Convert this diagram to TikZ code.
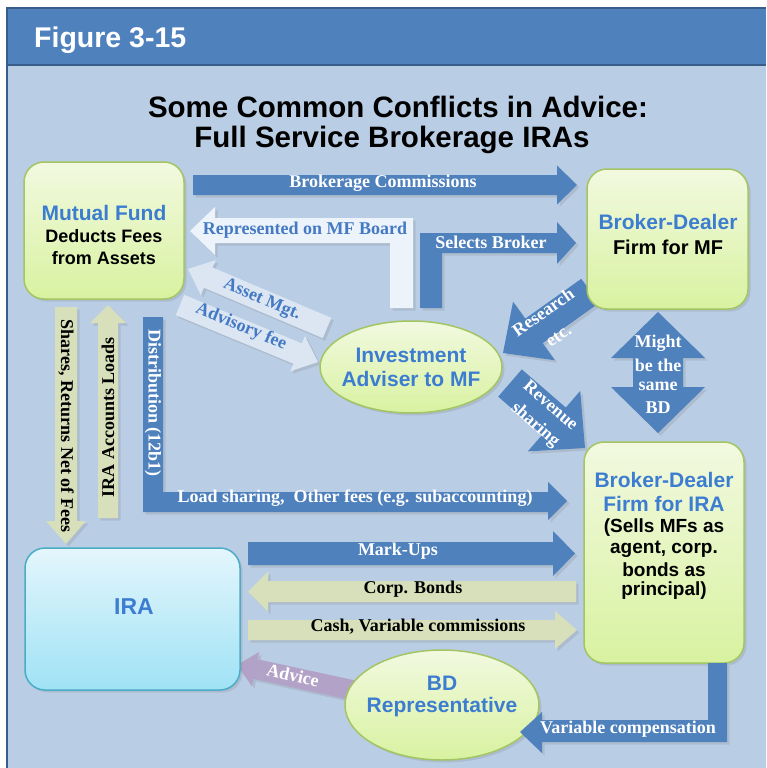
\documentclass[tikz,border=0pt]{standalone}
\usepackage{fontspec}
\setmainfont{Liberation Serif}
\newfontfamily\arialf{Liberation Sans}
\usetikzlibrary{calc,shapes.geometric,shadows}

\definecolor{hdrblue}{HTML}{4F81BD}
\definecolor{hdrdark}{HTML}{385D8A}
\definecolor{bodyblue}{HTML}{B9CDE5}
\definecolor{arrblue}{HTML}{4F81BD}
\definecolor{arrlight}{HTML}{DCE6F2}
\definecolor{arrwhite}{HTML}{EDF3FA}
\definecolor{arrolive}{HTML}{D7E0BA}
\definecolor{arrpurple}{HTML}{B3A2C7}
\definecolor{txtblue}{HTML}{3C7DD1}
\definecolor{lblblue}{HTML}{4479C4}
\definecolor{greentop}{HTML}{F2F9E0}
\definecolor{greenbot}{HTML}{D8F2A0}
\definecolor{greenedge}{HTML}{A3C563}
\definecolor{cyantop}{HTML}{E4F6FC}
\definecolor{cyanbot}{HTML}{9FE2F5}
\definecolor{cyanedge}{HTML}{4BACC6}

% style, tail, tip, shaft half-width, head half-width, head length
\newcommand{\fatarrow}[6]{%
  \coordinate (fa-base) at ($(#3)!#6!(#2)$);
  \path[#1] ($(#2)!#4!90:(#3)$) -- ($(fa-base)!#4!90:(#3)$) -- ($(fa-base)!#5!90:(#3)$)
    -- (#3) -- ($(fa-base)!#5!-90:(#3)$) -- ($(fa-base)!#4!-90:(#3)$) -- ($(#2)!#4!-90:(#3)$) -- cycle;}

\tikzset{
  shad/.style={drop shadow={opacity=0.22, shadow xshift=2.5pt, shadow yshift=-2.5pt}},
  bluearrow/.style={fill=arrblue, shad},
  lightarrow/.style={fill=arrlight, shad},
  whitearrow/.style={fill=arrwhite, shad},
  olivearrow/.style={fill=arrolive, shad},
  purplearrow/.style={fill=arrpurple, shad},
  gbox/.style={rectangle, draw=greenedge, line width=1.5pt, top color=greentop, bottom color=greenbot, rounded corners=20pt, shad, inner sep=0pt},
  cbox/.style={rectangle, draw=cyanedge, line width=1.5pt, top color=cyantop, bottom color=cyanbot, rounded corners=20pt, shad, inner sep=0pt},
  gell/.style={ellipse, draw=greenedge, line width=1.5pt, top color=greentop, bottom color=greenbot, shad, inner sep=0pt},
  lbl/.style={font=\fontsize{18}{22}\selectfont\bfseries, inner sep=0pt, align=center},
  wlbl/.style={lbl, text=white},
  klbl/.style={lbl, text=black},
  blbl/.style={lbl, text=lblblue},
  btitle/.style={font=\arialf\bfseries\fontsize{21}{24}\selectfont, text=txtblue, inner sep=0pt},
  btext/.style={font=\arialf\bfseries\fontsize{19}{21}\selectfont, text=black, inner sep=0pt},
}

\begin{document}
\begin{tikzpicture}[x=1pt,y=-1pt]
\useasboundingbox (0,0) rectangle (766,768);
\fill[white] (0,0) rectangle (766,768);
% frame
\fill[bodyblue] (7,65) rectangle (766,768);
\fill[hdrblue] (7,8) rectangle (766,65);
\draw[hdrdark, line width=2pt] (766,8) -- (7,8) -- (7,768);
\draw[hdrdark, line width=2pt] (7,65) -- (766,65);
\node[anchor=west, text=white, font=\arialf\bfseries\fontsize{28.5}{30}\selectfont, inner sep=0pt] (fig) at (34,40) {Figure 3-15};

% title
\node[font=\arialf\bfseries\fontsize{29.5}{33}\selectfont, inner sep=0pt] (title1) at (398,107) {Some Common Conflicts in Advice:};
\node[font=\arialf\bfseries\fontsize{29.5}{33}\selectfont, inner sep=0pt] (title2) at (392,140) {Full Service Brokerage IRAs};

% ---------- arrows (under boxes) ----------
% Brokerage Commissions
\coordinate (bc-tail) at (193,185); \coordinate (bc-tip) at (577,185);
\fatarrow{bluearrow}{bc-tail}{bc-tip}{10pt}{19.5pt}{20pt}

% Represented on MF Board (L-shaped)
\path[whitearrow] (190,231) -- (215,207) -- (215,218) -- (413,218) -- (413,308) -- (390,308)
  -- (390,243) -- (215,243) -- (215,255) -- cycle;

% Selects Broker (L-shaped)
\path[bluearrow] (420,308) -- (420,233) -- (557,233) -- (557,222) -- (576,243) -- (557,264)
  -- (557,253) -- (442,253) -- (442,308) -- cycle;

% Asset Mgt. / Advisory fee
\coordinate (am-tail) at (327,328); \coordinate (am-tip) at (188,269);
\fatarrow{lightarrow}{am-tail}{am-tip}{11pt}{19pt}{22pt}
\coordinate (af-tail) at (180,305); \coordinate (af-tip) at (318,362);
\fatarrow{lightarrow}{af-tail}{af-tip}{11pt}{19pt}{22pt}

% Research etc.
\coordinate (rs-tail) at (590,291); \coordinate (rs-tip) at (503,353);
\fatarrow{bluearrow}{rs-tail}{rs-tip}{15pt}{36pt}{38pt}

% Revenue sharing
\coordinate (rv-tail) at (510,383); \coordinate (rv-tip) at (585,448);
\fatarrow{bluearrow}{rv-tail}{rv-tip}{18pt}{40pt}{41pt}

% Might be the same BD (double arrow)
\path[bluearrow] (658,312) -- (705,358) -- (683,358) -- (683,387) -- (705,387) -- (658,433)
  -- (611,387) -- (633,387) -- (633,358) -- (611,358) -- cycle;

% Shares, Returns Net of Fees (down)
\coordinate (sh-tail) at (66,307); \coordinate (sh-tip) at (66,544);
\fatarrow{olivearrow}{sh-tail}{sh-tip}{11pt}{20pt}{23pt}
% IRA Accounts Loads (up)
\coordinate (ial-tail) at (108,518); \coordinate (ial-tip) at (108,305);
\fatarrow{olivearrow}{ial-tail}{ial-tip}{10pt}{18pt}{18pt}

% Distribution (L-shaped)
\path[bluearrow] (143,317) -- (163,317) -- (163,492) -- (548,492) -- (548,482) -- (567,501)
  -- (548,520) -- (548,512) -- (143,512) -- cycle;

% Mark-Ups
\coordinate (mu-tail) at (248,553.5); \coordinate (mu-tip) at (575,553.5);
\fatarrow{bluearrow}{mu-tail}{mu-tip}{11.5pt}{22.5pt}{22pt}
% Corp. Bonds
\coordinate (cb-tail) at (576,591.5); \coordinate (cb-tip) at (248,591.5);
\fatarrow{olivearrow}{cb-tail}{cb-tip}{10.5pt}{20pt}{20pt}
% Cash, Variable commissions
\coordinate (cv-tail) at (248,630); \coordinate (cv-tip) at (577,630);
\fatarrow{olivearrow}{cv-tail}{cv-tip}{10pt}{19pt}{22pt}

% Advice
\coordinate (ad-tail) at (352,690); \coordinate (ad-tip) at (237,665);
\fatarrow{purplearrow}{ad-tail}{ad-tip}{10pt}{17.5pt}{19pt}

% ---------- boxes ----------
\node[gbox, minimum width=160pt, minimum height=137pt] (mf) at (104,230.5) {};
\node[gbox, minimum width=161pt, minimum height=140pt] (bdmf) at (667.5,239) {};
\node[gbox, minimum width=160pt, minimum height=221pt] (bdira) at (664,552.5) {};
\node[cbox, minimum width=215pt, minimum height=142pt] (ira) at (132.5,619) {};
\node[gell, minimum width=182pt, minimum height=92pt] (ia) at (411,367) {};
\node[gell, minimum width=194pt, minimum height=110pt] (rep) at (442,705) {};

% Variable compensation (L-shaped, over the ellipse)
\path[bluearrow] (708,663) -- (727,663) -- (727,742) -- (542,742) -- (542,753) -- (520,732)
  -- (542,712) -- (542,720) -- (708,720) -- cycle;

% ---------- box texts ----------
\node[btitle] (mf-t1) at (104,213) {Mutual Fund};
\node[btext, font=\arialf\bfseries\fontsize{18}{21}\selectfont] (mf-t2) at (104,236) {Deducts Fees};
\node[btext, font=\arialf\bfseries\fontsize{18}{21}\selectfont] (mf-t3) at (104,258) {from Assets};

\node[btitle] (bdmf-t1) at (668,222) {Broker-Dealer};
\node[btext, font=\arialf\bfseries\fontsize{20}{22}\selectfont] (bdmf-t2) at (668,247) {Firm for MF};

\node[btitle] (ia-t1) at (411,355) {Investment};
\node[btitle] (ia-t2) at (411,379) {Adviser to MF};

\node[btitle] (bdira-t1) at (664,480) {Broker-Dealer};
\node[btitle] (bdira-t2) at (664,504) {Firm for IRA};
\node[btext] (bdira-t3) at (664,528) {(Sells MFs as};
\node[btext] (bdira-t4) at (664,549) {agent, corp.};
\node[btext] (bdira-t5) at (664,570) {bonds as};
\node[btext] (bdira-t6) at (664,591) {principal)};

\node[btitle, font=\arialf\bfseries\fontsize{23}{25}\selectfont] (ira-t) at (134,607) {IRA};

\node[btitle] (rep-t1) at (442,683) {BD};
\node[btitle] (rep-t2) at (442,707) {Representative};

% ---------- arrow labels ----------
\node[wlbl] (bc-l) at (383,183) {Brokerage Commissions};
\node[blbl] (rep-l) at (305,230) {Represented on MF Board};
\node[wlbl] (sb-l) at (491,242) {Selects Broker};
\node[blbl, rotate=-23] (am-l) at (262,300) {Asset Mgt.};
\node[blbl, rotate=-22.5] (af-l) at (241,327) {Advisory fee};
\node[wlbl, rotate=35] (rs-l1) at (543,312) {Research};
\node[wlbl, rotate=35] (rs-l2) at (559,336) {etc.};
\node[wlbl, rotate=-41] (rv-l1) at (551,405) {Revenue};
\node[wlbl, rotate=-41] (rv-l2) at (535,425) {sharing};
\node[wlbl] (mb-1) at (658,343) {Might};
\node[wlbl] (mb-2) at (658,365) {be the};
\node[wlbl] (mb-3) at (658,386) {same};
\node[wlbl] (mb-4) at (658,408) {BD};
\node[klbl, rotate=-90] (sh-l) at (66,426) {Shares, Returns Net of Fees};
\node[klbl, rotate=90] (ial-l) at (108,417) {IRA Accounts Loads};
\node[wlbl, rotate=-90] (di-l) at (153,403) {Distribution (12b1)};
\node[wlbl] (ls-l) at (355,498) {Load sharing,~ Other fees (e.g. subaccounting)};
\node[wlbl] (mu-l) at (398,551) {Mark-Ups};
\node[klbl] (cb-l) at (413,589) {Corp. Bonds};
\node[klbl] (cv-l) at (418,627) {Cash, Variable commissions};
\node[wlbl, rotate=-12.5] (ad-l) at (293,675) {Advice};
\node[wlbl] (vc-l) at (628,729) {Variable compensation};
\end{tikzpicture}
\end{document}
